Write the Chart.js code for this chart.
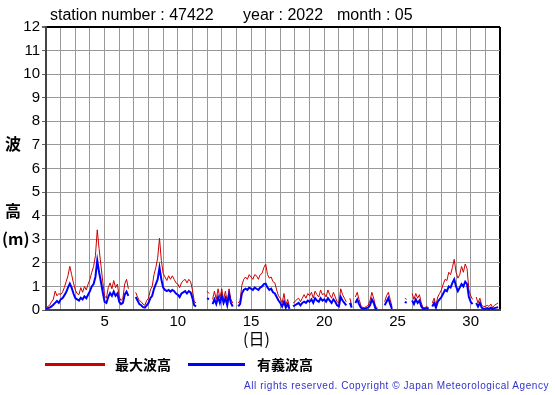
<!DOCTYPE html>
<html>
<head>
<meta charset="utf-8">
<script src="https://cdn.jsdelivr.net/npm/chart.js@4.4.0/dist/chart.umd.min.js"></script>
<style>
body { margin: 0; background: #fff; }
#wrap { position: relative; width: 555px; height: 395px; }
.txt { position: absolute; white-space: pre; font-family: "Liberation Sans", Arial, sans-serif; color: #000; }
.jp { position: absolute; white-space: pre; font-family: "Noto Sans CJK JP", sans-serif; font-weight: bold; color: #000; }
.line { position: absolute; height: 3px; }
</style>
</head>
<body>
<div id="wrap">
<canvas id="myChart" width="555" height="395"></canvas>
<div class="txt" style="left:50px;top:6px;font-size:16px">station number : 47422</div>
<div class="txt" style="left:243px;top:6px;font-size:16px">year : 2022</div>
<div class="txt" style="left:337px;top:6px;font-size:16px">month : 05</div>
<div class="jp" style="left:5px;top:131px;font-size:16px">波</div>
<div class="jp" style="left:5px;top:198px;font-size:16px">高</div>
<div class="jp" style="left:2px;top:226px;font-size:16px">(m)</div>
<div class="jp" style="left:243px;top:326px;font-size:16px;font-weight:normal">(日)</div>
<div class="line" style="left:45px;top:363px;width:60px;background:#cc0000"></div>
<div class="jp" style="left:115px;top:354px;font-size:14px">最大波高</div>
<div class="line" style="left:188px;top:363px;width:57px;background:#0000ff"></div>
<div class="jp" style="left:257px;top:354px;font-size:14px">有義波高</div>
<div class="txt" style="right:6px;top:380px;font-size:10px;letter-spacing:0.55px;color:#3333cc">All rights reserved. Copyright © Japan Meteorological Agency</div>
</div>
<script>
// wave heights every 3 hours (0,3,...,21h), one row per day, null = missing
const sigWave = [
  0.05, 0.08, 0.1, 0.15, 0.22, 0.3, 0.38, 0.3,
  0.45, 0.5, 0.62, 0.75, 0.95, 1.12, 0.95, 0.7,
  0.5, 0.45, 0.4, 0.52, 0.45, 0.58, 0.5, 0.65,
  0.8, 1.0, 1.1, 1.4, 2.1, 1.6, 1.2, 0.75,
  0.35, 0.3, 0.55, 0.72, 0.6, 0.78, 0.6, 0.7,
  0.35, 0.25, 0.3, 0.65, 0.78, 0.6, null, null,
  null, 0.55, 0.4, 0.25, 0.2, 0.12, 0.1, 0.2,
  0.3, 0.5, 0.6, 0.9, 1.1, 1.3, 1.8, 1.3,
  0.95, 0.85, 0.8, 0.85, 0.78, 0.85, 0.8, 0.7,
  0.65, 0.55, 0.7, 0.75, 0.8, 0.7, 0.8, 0.75,
  0.5, 0.2, 0.15, null, null, null, null, null,
  0.5, 0.45, null, 0.25, 0.45, 0.25, 0.55, 0.3,
  0.6, 0.3, 0.5, 0.2, 0.65, 0.3, 0.15, null,
  null, 0.15, 0.25, 0.7, 0.85, 0.9, 0.85, 0.95,
  0.9, 0.85, 0.95, 0.9, 0.85, 0.95, 1.0, 1.1,
  1.12, 0.95, 0.85, 0.9, 0.75, 0.7, 0.55, 0.4,
  0.3, 0.15, 0.35, 0.1, 0.25, 0.05, null, 0.15,
  0.2, 0.25, 0.3, 0.2, 0.3, 0.35, 0.3, 0.4,
  0.35, 0.45, 0.3, 0.5, 0.4, 0.35, 0.5, 0.4,
  0.45, 0.35, 0.5, 0.4, 0.3, 0.45, 0.35, 0.2,
  0.15, 0.55, 0.4, 0.3, 0.2, null, 0.3, 0.1,
  null, 0.3, 0.45, 0.25, 0.1, 0.05, 0.05, 0.08,
  0.1, 0.2, 0.45, 0.3, 0.05, 0.05, null, null,
  null, 0.2, 0.35, 0.5, 0.25, 0.05, null, null,
  null, null, null, null, 0.35, 0.3, null, null,
  0.4, 0.25, 0.45, 0.3, 0.4, 0.15, 0.05, 0.05,
  0.08, 0.05, null, 0.15, 0.3, 0.1, 0.35, 0.45,
  0.55, 0.7, 0.85, 0.8, 1.0, 0.95, 1.15, 1.3,
  1.0, 0.8, 0.95, 1.1, 1.0, 1.2, 1.1, 0.55,
  0.35, 0.25, null, 0.3, 0.15, 0.3, 0.1, 0.05,
  0.05, 0.08, 0.05, 0.1, 0.05, 0.08, 0.1, 0.12
]
const maxWave = [
  0.1, 0.15, 0.2, 0.35, 0.45, 0.8, 0.6, 0.7,
  0.65, 0.75, 0.95, 1.2, 1.45, 1.85, 1.5, 1.15,
  0.85, 0.7, 0.65, 0.95, 0.75, 1.0, 0.85, 1.1,
  1.3, 1.6, 1.85, 2.3, 3.4, 2.6, 1.9, 1.2,
  0.6, 0.5, 0.95, 1.15, 0.9, 1.25, 0.95, 1.1,
  0.55, 0.4, 0.5, 1.1, 1.3, 0.9, null, null,
  null, 0.75, 0.55, 0.4, 0.35, 0.25, 0.2, 0.4,
  0.5, 0.85, 1.0, 1.5, 1.8, 2.2, 3.05, 2.1,
  1.55, 1.4, 1.25, 1.45, 1.3, 1.45, 1.3, 1.15,
  1.1, 0.95, 1.15, 1.25, 1.3, 1.15, 1.3, 1.2,
  0.85, 0.35, 0.3, null, null, null, null, null,
  0.8, 0.7, null, 0.45, 0.8, 0.45, 0.9, 0.5,
  0.9, 0.45, 0.8, 0.35, 0.9, 0.45, 0.3, null,
  null, 0.3, 0.4, 1.05, 1.3, 1.4, 1.3, 1.5,
  1.4, 1.3, 1.5, 1.45, 1.3, 1.5, 1.55, 1.8,
  1.95, 1.5, 1.35, 1.4, 1.2, 1.15, 0.85, 0.6,
  0.5, 0.3, 0.7, 0.2, 0.45, 0.15, null, 0.3,
  0.35, 0.45, 0.5, 0.35, 0.5, 0.65, 0.5, 0.7,
  0.6, 0.75, 0.5, 0.8, 0.65, 0.55, 0.85, 0.65,
  0.7, 0.55, 0.85, 0.65, 0.5, 0.75, 0.55, 0.35,
  0.3, 0.9, 0.65, 0.5, 0.35, null, 0.5, 0.2,
  null, 0.55, 0.75, 0.45, 0.2, 0.1, 0.1, 0.15,
  0.2, 0.4, 0.75, 0.5, 0.15, 0.1, null, null,
  null, 0.35, 0.6, 0.75, 0.45, 0.15, null, null,
  null, null, null, null, 0.5, 0.45, null, null,
  0.7, 0.45, 0.7, 0.5, 0.65, 0.3, 0.1, 0.1,
  0.15, 0.1, null, 0.3, 0.5, 0.2, 0.55, 0.7,
  0.85, 1.1, 1.3, 1.25, 1.6, 1.5, 1.8, 2.15,
  1.6, 1.35, 1.5, 1.85, 1.6, 1.95, 1.75, 0.85,
  0.6, 0.45, null, 0.55, 0.3, 0.5, 0.2, 0.15,
  0.15, 0.2, 0.15, 0.25, 0.1, 0.2, 0.25, 0.3
]
// axis ticks
const dayLabels = [5, 10, 15, 20, 25, 30]
const yTicks = [0, 1, 2, 3, 4, 5, 6, 7, 8, 9, 10, 11, 12]

// x position of sample i = day 1 + i * 3 hours
function toPoints(arr) {
  return arr.map((v, i) => ({x: 1 + i / 8, y: v}))
}

const ctx = document.getElementById('myChart')
new Chart(ctx, {
  type: 'line',
  data: {
    datasets: [{
      label: '有義波高',
      data: toPoints(sigWave),
      borderColor: '#0000ff',
      borderWidth: 2,
      pointRadius: 0,
      spanGaps: false,
      order: 1
    }, {
      label: '最大波高',
      data: toPoints(maxWave),
      borderColor: '#cc0000',
      borderWidth: 1,
      pointRadius: 0,
      spanGaps: false,
      order: 2
    }]
  },
  options: {
    responsive: false,
    animation: false,
    devicePixelRatio: 1,
    layout: {padding: {left: 0, top: 27, right: 55, bottom: 0}},
    plugins: {legend: {display: false}, tooltip: {enabled: false}},
    scales: {
      x: {
        type: 'linear',
        min: 1,
        max: 32,
        afterFit: (s) => { s.height = 85 },
        afterBuildTicks: (s) => { s.ticks = []; for (let d = 1; d <= 32; d++) s.ticks.push({value: d}) },
        ticks: {
          autoSkip: false,
          maxRotation: 0,
          padding: 3,
          color: '#000',
          font: {family: 'Liberation Sans', size: 15},
          callback: (v) => dayLabels.includes(v) ? String(v) : ''
        },
        grid: {
          drawTicks: false,
          color: (c) => c.tick && c.tick.value === 32 ? '#000' : '#999',
          lineWidth: (c) => c.tick && c.tick.value === 32 ? 2 : 1
        },
        border: {color: '#444', width: 2}
      },
      y: {
        min: 0,
        max: 12,
        afterFit: (s) => { s.width = 46 },
        afterBuildTicks: (s) => { s.ticks = yTicks.map(v => ({value: v})) },
        ticks: {
          padding: 2,
          color: '#000',
          font: {family: 'Liberation Sans', size: 15}
        },
        grid: {
          tickLength: 4,
          tickColor: '#666',
          color: (c) => c.tick && c.tick.value === 12 ? '#000' : '#999',
          lineWidth: (c) => c.tick && c.tick.value === 12 ? 2 : 1
        },
        border: {color: '#444', width: 2}
      }
    }
  }
})
</script>
</body>
</html>
